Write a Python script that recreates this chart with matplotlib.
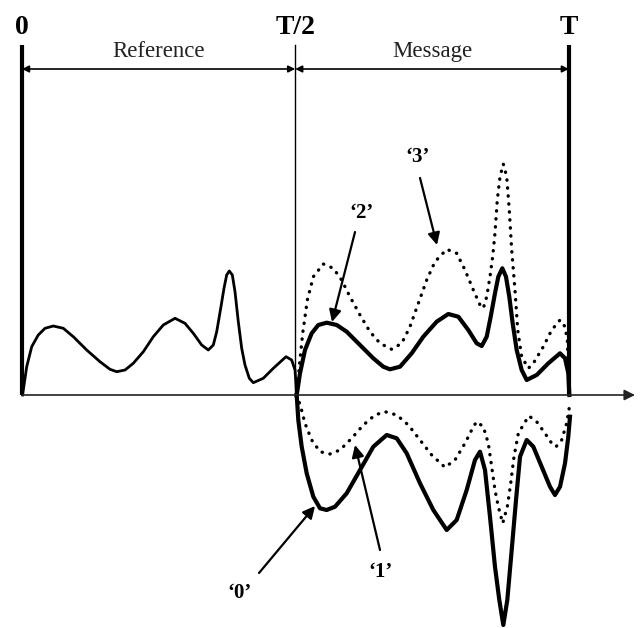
import numpy as np
import matplotlib
matplotlib.use("Agg")
from matplotlib import pyplot as plt

# time in units of the symbol period T, amplitude in arbitrary units
# reference half (0 .. T/2)
ref_t = [0.001, 0.0086, 0.0177, 0.0297, 0.042, 0.0571, 0.0754, 0.0936, 0.118, 0.1423,
         0.1606, 0.1728, 0.188, 0.2031, 0.2214, 0.2396, 0.2578, 0.2792, 0.2974, 0.3126,
         0.3279, 0.34, 0.3491, 0.3553, 0.3626, 0.3686, 0.3735, 0.3783, 0.3838, 0.3887,
         0.3947, 0.4009, 0.4069, 0.4148, 0.4221, 0.4403, 0.4586, 0.4818, 0.4921, 0.4982,
         0.5013]
ref_a = [0, 0.283, 0.483, 0.60, 0.667, 0.69, 0.667, 0.583, 0.45, 0.333,
         0.257, 0.233, 0.25, 0.317, 0.433, 0.583, 0.70, 0.767, 0.717, 0.617,
         0.50, 0.45, 0.50, 0.633, 0.867, 1.067, 1.20, 1.24, 1.20, 1.033,
         0.733, 0.467, 0.30, 0.167, 0.123, 0.167, 0.267, 0.383, 0.35, 0.25,
         0]

# message '2' (solid, positive)
m2_t = [0.5013, 0.5073, 0.5164, 0.5286, 0.5407, 0.556, 0.5743, 0.5925, 0.6168, 0.6411,
        0.6593, 0.6715, 0.6898, 0.7111, 0.7323, 0.7567, 0.7779, 0.7962, 0.8144, 0.8297,
        0.8389, 0.848, 0.8553, 0.8631, 0.8692, 0.8765, 0.8832, 0.8892, 0.8954, 0.9027,
        0.9118, 0.921, 0.9392, 0.9604, 0.9818, 0.9909, 0.9969, 0.9988]
m2_a = [0, 0.217, 0.45, 0.617, 0.70, 0.723, 0.70, 0.633, 0.50, 0.367,
        0.283, 0.257, 0.283, 0.417, 0.583, 0.733, 0.81, 0.783, 0.65, 0.517,
        0.49, 0.583, 0.783, 1.017, 1.183, 1.267, 1.183, 0.983, 0.717, 0.45,
        0.25, 0.15, 0.20, 0.317, 0.417, 0.367, 0.217, 0]

# message '3' (dotted, positive)
m3_t = [0.5013, 0.506, 0.5122, 0.5207, 0.5316, 0.5498, 0.5681, 0.5833, 0.5985, 0.6168,
        0.635, 0.6533, 0.6746, 0.6929, 0.708, 0.7232, 0.7385, 0.7536, 0.775, 0.7932,
        0.8084, 0.8236, 0.8358, 0.8418, 0.848, 0.854, 0.8589, 0.8631, 0.8673, 0.8723,
        0.8783, 0.8845, 0.8892, 0.8936, 0.8996, 0.9046, 0.9118, 0.924, 0.9331, 0.9513,
        0.9666, 0.9818, 0.9909, 0.9951, 0.9988]
m3_a = [0, 0.283, 0.617, 0.95, 1.183, 1.31, 1.267, 1.15, 0.983, 0.80,
        0.633, 0.517, 0.457, 0.517, 0.683, 0.917, 1.15, 1.333, 1.457, 1.417,
        1.25, 1.05, 0.90, 0.867, 0.983, 1.183, 1.383, 1.617, 1.95, 2.183,
        2.31, 2.183, 1.85, 1.45, 1.05, 0.65, 0.383, 0.267, 0.317, 0.483,
        0.65, 0.75, 0.683, 0.55, 0]

# message '0' (solid, negative)
m0_t = [0.5013, 0.5042, 0.5104, 0.5195, 0.5316, 0.5438, 0.556, 0.5712, 0.5925, 0.6168,
        0.6411, 0.6655, 0.6838, 0.702, 0.7263, 0.7506, 0.775, 0.7932, 0.8115, 0.8266,
        0.8358, 0.8449, 0.854, 0.8631, 0.871, 0.8783, 0.8856, 0.8936, 0.9015, 0.9088,
        0.921, 0.9331, 0.9483, 0.9635, 0.9726, 0.9818, 0.9909, 0.9969, 1.0]
m0_a = [0, -0.25, -0.517, -0.783, -1.017, -1.133, -1.15, -1.117, -0.983, -0.75,
        -0.517, -0.40, -0.433, -0.583, -0.883, -1.15, -1.35, -1.25, -0.95, -0.65,
        -0.567, -0.75, -1.217, -1.717, -2.05, -2.30, -2.05, -1.55, -1.05, -0.617,
        -0.45, -0.517, -0.717, -0.917, -1.0, -0.917, -0.683, -0.417, -0.217]

# message '1' (dotted, negative)
m1_t = [0.5013, 0.5086, 0.5164, 0.5286, 0.5438, 0.562, 0.5803, 0.6016, 0.6229, 0.6442,
        0.6624, 0.6838, 0.705, 0.7263, 0.7476, 0.7719, 0.7901, 0.8084, 0.8236, 0.8297,
        0.8418, 0.8509, 0.8571, 0.8631, 0.8692, 0.8772, 0.8856, 0.8918, 0.8978, 0.9057,
        0.9179, 0.9252, 0.9392, 0.9544, 0.9666, 0.9745, 0.9848, 0.9939, 1.0]
m1_a = [0, -0.117, -0.283, -0.45, -0.567, -0.59, -0.55, -0.433, -0.30, -0.20,
        -0.167, -0.20, -0.30, -0.45, -0.60, -0.723, -0.65, -0.483, -0.317, -0.267,
        -0.317, -0.483, -0.717, -0.95, -1.117, -1.283, -1.117, -0.883, -0.617, -0.383,
        -0.27, -0.21, -0.267, -0.383, -0.483, -0.517, -0.45, -0.283, -0.083]

# tick labels across the top and the two section names
top_labels = ["0", "T/2", "T"]
top_pos = [0.0, 0.4985, 0.998]
sections = ["Reference", "Message"]

# symbol labels: text, label position, arrow tail, arrow head
sym_labels = ["\u20182\u2019", "\u20183\u2019", "\u20180\u2019", "\u20181\u2019"]
sym_xy = [(0.6204, 1.82), (0.7226, 2.38), (0.396, -1.98), (0.6533, -1.77)]
sym_tail = [(0.6077, 1.63), (0.7263, 2.17), (0.4325, -1.78), (0.6533, -1.55)]
sym_head = [(0.5657, 0.73), (0.7573, 1.50), (0.5347, -1.11), (0.6077, -0.50)]

serif = ["Liberation Serif", "DejaVu Serif"]

fig = plt.figure(figsize=(6.42, 6.28), dpi=100)
ax = fig.add_axes([0, 0, 1, 1])
ax.set_xlim(-22 / 548, 620 / 548)
ax.set_ylim(-2.33, 3.95)
ax.axis("off")

# time axis with arrow
ax.annotate("", xy=(1.1186, 0), xytext=(0, 0),
            arrowprops=dict(arrowstyle="-|>", lw=1.2, color="#222222",
                            mutation_scale=16, shrinkA=0, shrinkB=0))

# vertical markers
top = 3.5
ax.plot([top_pos[0], top_pos[0]], [0, top], color="black", lw=3.0, solid_capstyle="butt")
ax.plot([top_pos[1], top_pos[1]], [-0.02, top], color="black", lw=1.0)
ax.plot([top_pos[2], top_pos[2]], [0, top], color="black", lw=3.0, solid_capstyle="butt")

for lab, x in zip(top_labels, top_pos):
    ax.text(x, 3.61, lab, ha="center", va="baseline", fontsize=20,
            fontweight="bold", family=serif)

# span arrows
for x0, x1, name in [(top_pos[0], top_pos[1], sections[0]),
                     (top_pos[1], top_pos[2], sections[1])]:
    ax.annotate("", xy=(x1, 3.26), xytext=(x0, 3.26),
                arrowprops=dict(arrowstyle="<|-|>", lw=1.2, color="black",
                                mutation_scale=10, shrinkA=0, shrinkB=0))
    ax.text((x0 + x1) / 2, 3.38, name, ha="center", va="baseline",
            fontsize=16.5, family=serif, color="#222222")

# waveforms
ax.plot(ref_t, ref_a, color="black", lw=2.0, solid_joinstyle="round")
ax.plot(m2_t, m2_a, color="black", lw=3.0, solid_joinstyle="round")
ax.plot(m0_t, m0_a, color="black", lw=3.0, solid_joinstyle="round")
ax.plot(m3_t, m3_a, color="black", lw=2.4, linestyle=(0, (0.1, 2.3)),
        dash_capstyle="round")
ax.plot(m1_t, m1_a, color="black", lw=2.4, linestyle=(0, (0.1, 2.3)),
        dash_capstyle="round")

# symbol labels with arrows
for lab, xy, tail, head in zip(sym_labels, sym_xy, sym_tail, sym_head):
    ax.annotate("", xy=head, xytext=tail,
                arrowprops=dict(arrowstyle="-|>", lw=1.6, color="black",
                                mutation_scale=18, shrinkA=0, shrinkB=0))
    ax.text(xy[0], xy[1], lab, ha="center", va="center", fontsize=15,
            fontweight="bold", family=serif)

fig.savefig("out.png", dpi=100, facecolor="white")
